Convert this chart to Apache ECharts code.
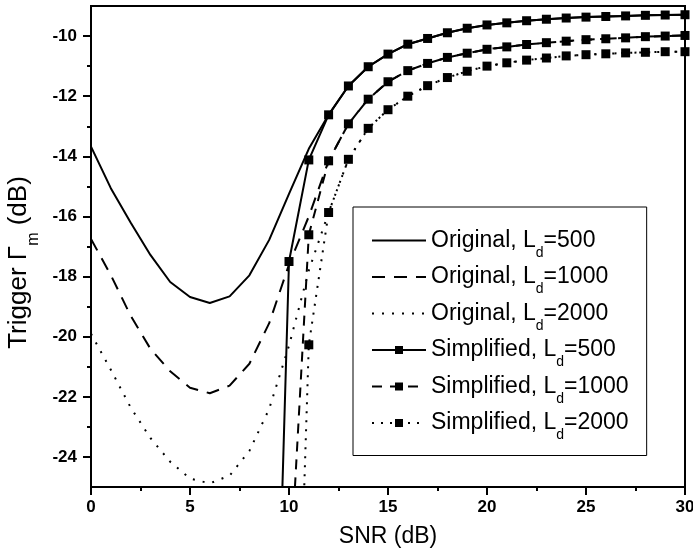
<!DOCTYPE html>
<html>
<head>
<meta charset="utf-8">
<script src="https://cdn.jsdelivr.net/npm/echarts@6/dist/echarts.min.js"></script>
<style>
  html, body { margin: 0; padding: 0; background: #fff; }
  #myChart { width: 693px; height: 550px; }
</style>
</head>
<body>
<div id="myChart"></div>
<script>
var snr = [0,1,2,3,4,5,6,7,8,9,10,11,12,13,14,15,16,17,18,19,20,21,22,23,24,25,26,27,28,29,30];

var origL500 = [-13.68,-15.06,-16.2,-17.28,-18.18,-18.68,-18.88,-18.66,-17.96,-16.78,-15.25,-13.75,-12.62,
  -11.66,-11.02,-10.60,-10.27,-10.08,-9.89,-9.74,-9.63,-9.56,-9.49,-9.44,-9.40,-9.37,-9.35,-9.33,-9.31,-9.30,-9.29];
var origL1000 = [-16.75,-17.95,-19.3,-20.4,-21.15,-21.7,-21.88,-21.63,-20.9,-19.55,-17.6,-16.0,-14.15,
  -12.92,-12.10,-11.52,-11.15,-10.91,-10.71,-10.57,-10.44,-10.36,-10.28,-10.22,-10.17,-10.12,-10.09,-10.06,-10.02,-10.0,-9.98];
var origL2000 = [-19.9,-21.1,-22.35,-23.37,-24.16,-24.72,-24.88,-24.62,-23.8,-22.4,-20.3,-17.8,-15.87,
  -14.10,-13.07,-12.45,-12.0,-11.65,-11.38,-11.17,-11.0,-10.89,-10.80,-10.73,-10.66,-10.62,-10.59,-10.56,-10.54,-10.52,-10.52];

var simpL500 = [null,null,null,null,null,null,null,null,null,-40.0,-17.5,-14.12,-12.62,
  -11.66,-11.02,-10.60,-10.27,-10.08,-9.89,-9.74,-9.63,-9.56,-9.49,-9.44,-9.40,-9.37,-9.35,-9.33,-9.31,-9.30,-9.29];
var simpL1000 = [null,null,null,null,null,null,null,null,null,null,-28.6,-16.61,-14.15,
  -12.92,-12.10,-11.52,-11.15,-10.91,-10.71,-10.57,-10.44,-10.36,-10.28,-10.22,-10.17,-10.12,-10.09,-10.06,-10.02,-10.0,-9.98];
var simpL2000 = [null,null,null,null,null,null,null,null,null,null,-40.8,-20.27,-15.87,
  -14.10,-13.07,-12.45,-12.0,-11.65,-11.38,-11.17,-11.0,-10.89,-10.80,-10.73,-10.66,-10.62,-10.59,-10.56,-10.54,-10.52,-10.52];

var seriesNames = ['Original, L_d=500','Original, L_d=1000','Original, L_d=2000',
  'Simplified, L_d=500','Simplified, L_d=1000','Simplified, L_d=2000'];
var yTicks = [-24,-22,-20,-18,-16,-14,-12,-10];
var yMinorTicks = [-23,-21,-19,-17,-15,-13,-11];

var FONT = '"Liberation Sans", Arial, sans-serif';

function pairs(ys){
  var out = [];
  for (var i = 0; i < snr.length; i++) {
    if (ys[i] !== null) out.push([snr[i], ys[i]]);
  }
  return out;
}

function mkSeries(name, ys, dash, withSymbol){
  return {
    name: name,
    type: 'line',
    data: pairs(ys),
    symbol: withSymbol ? 'rect' : 'none',
    symbolSize: 9,
    showSymbol: withSymbol,
    itemStyle: {color: '#000'},
    lineStyle: {color: '#000', width: 2, type: dash},
    clip: true,
    z: withSymbol ? 3 : 2
  };
}

// legend entries; originals get no marker in the key
var legendData = seriesNames.map(function(n, i){
  if (i < 3) return {name: n, itemStyle: {color: 'rgba(0,0,0,0)', borderWidth: 0}};
  return {name: n};
});

var option = {
  animation: false,
  backgroundColor: '#fff',
  grid: {left: 91, right: 8, top: 6, bottom: 63, show: true, borderColor: '#000', borderWidth: 2,
         outerBoundsMode: 'none', containLabel: false},
  legend: {
    orient: 'vertical',
    left: 353,
    top: 207,
    padding: [22, 18, 13, 18],
    itemGap: 5.5,
    itemWidth: 54,
    itemHeight: 10,
    borderColor: '#000',
    borderWidth: 1,
    backgroundColor: '#fff',
    data: legendData,
    formatter: function(name){
      var p = name.split('_d');
      return '{t|' + p[0] + '}{s|d}{t|' + p[1] + '}';
    },
    textStyle: {rich: {
      t: {fontSize: 23, fontFamily: FONT, color: '#000', lineHeight: 26},
      s: {fontSize: 14, fontFamily: FONT, color: '#000', height: 1, lineHeight: 1, verticalAlign: 'bottom'}
    }}
  },
  xAxis: {
    type: 'value',
    min: 0,
    max: 30,
    interval: 5,
    name: 'SNR (dB)',
    nameLocation: 'middle',
    nameGap: 38,
    nameTextStyle: {fontSize: 23, fontFamily: FONT, color: '#000'},
    axisLine: {lineStyle: {color: '#000', width: 2}},
    axisTick: {length: 8, lineStyle: {color: '#000', width: 2}},
    minorTick: {show: true, splitNumber: 2, length: 4, lineStyle: {color: '#000', width: 2}},
    axisLabel: {fontSize: 17, fontWeight: 'bold', fontFamily: FONT, color: '#000', margin: 12},
    splitLine: {show: false}
  },
  yAxis: [{
    type: 'value',
    min: -25,
    max: -9,
    name: '{t|Trigger Γ}{s|m}{t| (dB)}',
    nameLocation: 'middle',
    nameGap: 46,
    nameTextStyle: {padding: [0, 32, 0, 0], rich: {
      t: {fontSize: 26, fontFamily: FONT, color: '#000', lineHeight: 30},
      s: {fontSize: 16, fontFamily: FONT, color: '#000', height: 1, lineHeight: 1, verticalAlign: 'bottom'}
    }},
    axisLine: {lineStyle: {color: '#000', width: 2}},
    axisTick: {length: 8, customValues: yTicks, lineStyle: {color: '#000', width: 2}},
    axisLabel: {customValues: yTicks, fontSize: 17, fontWeight: 'bold', fontFamily: FONT, color: '#000', margin: 14},
    splitLine: {show: false}
  }, {
    type: 'value',
    position: 'left',
    min: -25,
    max: -9,
    axisLine: {show: false},
    axisTick: {length: 4, customValues: yMinorTicks, lineStyle: {color: '#000', width: 2}},
    axisLabel: {show: false},
    splitLine: {show: false}
  }],
  series: [
    mkSeries(seriesNames[0], origL500, 'solid', false),
    mkSeries(seriesNames[1], origL1000, [13, 9], false),
    mkSeries(seriesNames[2], origL2000, [2, 8], false),
    mkSeries(seriesNames[3], simpL500, 'solid', true),
    mkSeries(seriesNames[4], simpL1000, [10, 8], true),
    mkSeries(seriesNames[5], simpL2000, [2, 7], true)
  ]
};

var myChart = echarts.init(document.getElementById('myChart'));
myChart.setOption(option);
</script>
</body>
</html>
